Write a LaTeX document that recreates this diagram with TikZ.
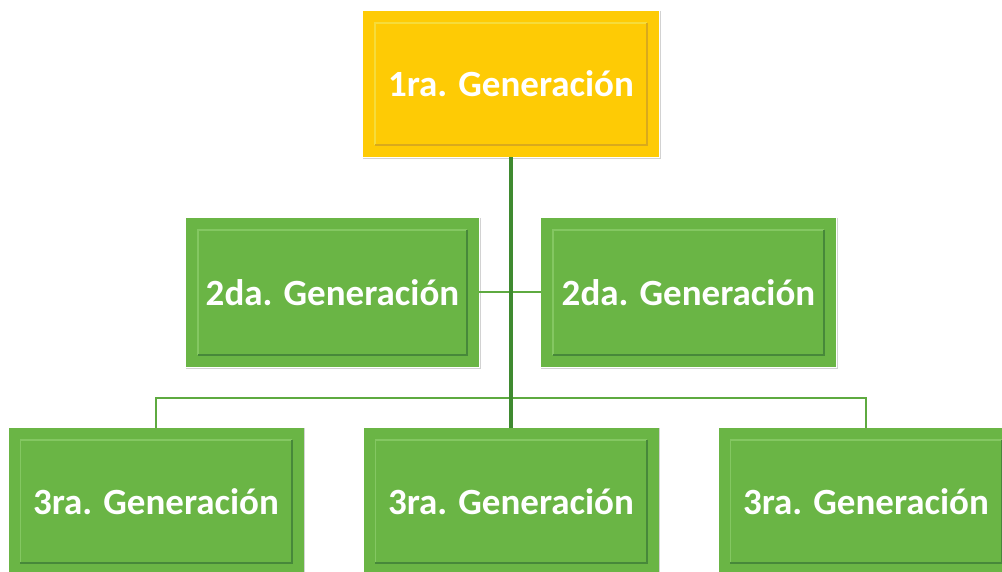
\documentclass[tikz,border=0pt]{standalone}
\usepackage{fontspec}
\setmainfont{Carlito}
\definecolor{genyellow}{HTML}{FECB05}
\definecolor{genyellowlt}{HTML}{F6DC3A}
\definecolor{genyellowdk}{HTML}{D9AA1C}
\definecolor{gengreen}{HTML}{6AB545}
\definecolor{gengreenlt}{HTML}{84C762}
\definecolor{gengreendk}{HTML}{47883A}
\definecolor{trunkgreen}{HTML}{3F8A30}
\definecolor{branchgreen}{HTML}{5EAA40}
\tikzset{
  genbox/.style={minimum width=295, minimum height=147, inner sep=0pt,
    font=\bfseries\fontsize{37}{42}\selectfont, text=white},
  yellowbox/.style={genbox, fill=genyellow},
  greenbox/.style={genbox, fill=gengreen},
  trunk/.style={trunkgreen, line width=4pt},
  branch/.style={branchgreen, line width=2pt},
  edgeshadow/.style={gray!35, line width=1pt},
}
\newcommand\bevelbox[3]{%
  \draw[#2, line width=1.6pt] ([shift={(-12,-12)}]#1.north east) -- ([shift={(12,-12)}]#1.north west) -- ([shift={(12,12)}]#1.south west);
  \draw[#3, line width=1.6pt] ([shift={(-12,-12)}]#1.north east) -- ([shift={(-12,12)}]#1.south east) -- ([shift={(12,12)}]#1.south west);
  \draw[edgeshadow] ([shift={(1,0)}]#1.north east) -- ([shift={(1,-1)}]#1.south east) -- ([shift={(0,-1)}]#1.south west);
}
\begin{document}
\begin{tikzpicture}[x=1pt, y=1pt]
\useasboundingbox (0,0) rectangle (1002,571);
\clip (0,0) rectangle (1002,571);
\fill[white] (0,0) rectangle (1002,571);

\node[yellowbox, minimum width=296, minimum height=146] (g1) at (511,487) {1ra. Generación};
\node[greenbox, minimum width=293, minimum height=149] (g2a) at (332.5,278.5) {2da. Generación};
\node[greenbox, minimum width=295, minimum height=149] (g2b) at (688.5,278.5) {2da. Generación};
\node[greenbox] (g3a) at (156,69.5) {3ra. Generación};
\node[greenbox] (g3b) at (511,69.5) {3ra. Generación};
\node[greenbox] (g3c) at (866,69.5) {3ra. Generación};

\bevelbox{g1}{genyellowlt}{genyellowdk}
\bevelbox{g2a}{gengreenlt}{gengreendk}
\bevelbox{g2b}{gengreenlt}{gengreendk}
\bevelbox{g3a}{gengreenlt}{gengreendk}
\bevelbox{g3b}{gengreenlt}{gengreendk}
\bevelbox{g3c}{gengreenlt}{gengreendk}

\coordinate (bus) at (512,173);
\draw[branch] (g2a.east) -- (g2b.west);
\draw[branch] (g3a.north) -- (g3a.north |- bus) -- (g3c.north |- bus) -- (g3c.north);
\draw[trunk] (g1.south) -- (g3b.north);
\end{tikzpicture}
\end{document}
